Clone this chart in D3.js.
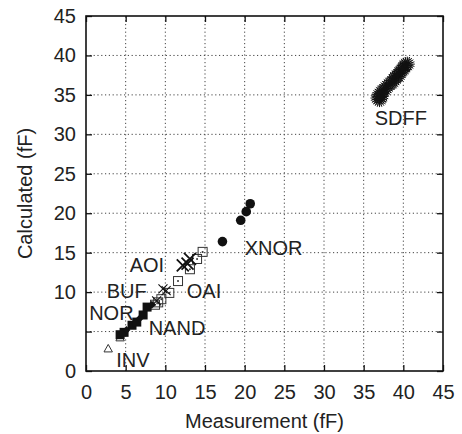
<!DOCTYPE html>
<html>
<head>
<meta charset="utf-8">
<script src="https://cdn.jsdelivr.net/npm/d3@7"></script>
<style>
  body { margin: 0; background: #fff; }
  svg { display: block; font-family: "Liberation Sans", Arial, sans-serif; }
  .tick text { font-size: 20px; fill: #222; }
  .grid line { stroke: #444; stroke-width: 1; stroke-dasharray: 1.2,2.6; }
  .lbl { font-size: 20px; fill: #222; }
</style>
</head>
<body>
<svg id="chart"></svg>
<script>
// cell families, [measured, calculated] in fF
const INV  = [[2.8, 2.8], [4.3, 4.2]];
const NOR  = [[4.3, 4.6], [4.8, 4.9], [5.8, 5.8], [6.4, 6.2], [7.2, 7.1], [7.7, 8.1]];
const NAND = [[5.1, 5.2], [6.8, 6.7], [8.3, 8.4]];
const BUF  = [[9.7, 10.4], [10.1, 10.2], [8.9, 8.9]];
const AOI  = [[12.2, 13.4], [13.1, 14.2], [12.8, 13.6]];
const OAI  = [[8.7, 8.4], [9.1, 8.7], [9.5, 9.1], [10.5, 9.9], [11.6, 11.4], [13.1, 12.9], [14.0, 14.2], [14.7, 15.1]];
const XNOR = [[17.2, 16.4], [19.5, 19.1], [20.2, 20.2], [20.7, 21.2]];
const SDFF = [[36.8, 34.6], [37.0, 34.4], [37.0, 35.0], [37.2, 34.8], [37.3, 35.4], [37.6, 35.6],
              [37.9, 36.0], [38.3, 36.4], [38.6, 36.6], [38.9, 37.0], [39.1, 37.3], [39.4, 37.5],
              [39.6, 37.9], [39.9, 38.2], [40.1, 38.5], [40.3, 38.8], [40.5, 38.9]];

// label text and anchor (left, baseline) in data units
const labelNames = ['SDFF', 'XNOR', 'AOI', 'BUF', 'OAI', 'NOR', 'NAND', 'INV'];
const labelX     = [36.4, 20.0, 5.5, 2.6, 12.7, 0.4, 7.9, 3.8];
const labelY     = [31.2, 14.7, 12.5, 9.25, 9.25, 6.5, 4.6, 0.5];

const xTicks = [0, 5, 10, 15, 20, 25, 30, 35, 40, 45];
const yTicks = [0, 5, 10, 15, 20, 25, 30, 35, 40, 45];
const yHidden = [5]; // no label printed at 5 in the original

const width = 462, height = 434;
const margin = { top: 16, right: 19, bottom: 63, left: 86 };

const svg = d3.select('#chart').attr('width', width).attr('height', height);

const x = d3.scaleLinear().domain([0, 45]).range([margin.left, width - margin.right]);
const y = d3.scaleLinear().domain([0, 45]).range([height - margin.bottom, margin.top]);

// dotted grid
const grid = svg.append('g').attr('class', 'grid');
grid.selectAll('.gx').data(xTicks.slice(1, -1)).join('line')
  .attr('x1', d => x(d)).attr('x2', d => x(d))
  .attr('y1', y(0)).attr('y2', y(45));
grid.selectAll('.gy').data(yTicks.slice(1, -1)).join('line')
  .attr('y1', d => y(d)).attr('y2', d => y(d))
  .attr('x1', x(0)).attr('x2', x(45));

// axes, ticks pointing inward
const tick = 6;
const axes = [
  [d3.axisBottom(x).tickValues(xTicks).tickSizeInner(-tick).tickSizeOuter(0).tickPadding(14), `translate(0,${y(0)})`],
  [d3.axisLeft(y).tickValues(yTicks).tickSizeInner(-tick).tickSizeOuter(0).tickPadding(10)
     .tickFormat(d => yHidden.includes(d) ? '' : d), `translate(${x(0)},0)`],
  [d3.axisTop(x).tickValues(xTicks).tickSizeInner(-tick).tickSizeOuter(0).tickFormat(''), `translate(0,${y(45)})`],
  [d3.axisRight(y).tickValues(yTicks).tickSizeInner(-tick).tickSizeOuter(0).tickFormat(''), `translate(${x(45)},0)`]
];
axes.forEach(([a, t]) => {
  const g = svg.append('g').attr('transform', t).call(a);
  g.select('.domain').remove();
  g.selectAll('.tick line').attr('stroke', '#111').attr('stroke-width', 1.3);
  g.selectAll('.tick text').attr('font-family', null).attr('font-size', null);
});

svg.append('rect')
  .attr('x', x(0)).attr('y', y(45))
  .attr('width', x(45) - x(0)).attr('height', y(0) - y(45))
  .attr('fill', 'none').attr('stroke', '#111').attr('stroke-width', 1.6);

// markers
const pts = svg.append('g');

pts.selectAll('.inv').data(INV).join('path')
  .attr('transform', d => `translate(${x(d[0])},${y(d[1])})`)
  .attr('d', 'M0,-4.5L4.2,3L-4.2,3Z')
  .attr('fill', '#fff').attr('stroke', '#333').attr('stroke-width', 1);

pts.selectAll('.oai').data(OAI).join('g')
  .attr('transform', d => `translate(${x(d[0])},${y(d[1])})`)
  .each(function () {
    const g = d3.select(this);
    g.append('rect').attr('x', -4.5).attr('y', -4.5).attr('width', 9).attr('height', 9)
      .attr('fill', 'none').attr('stroke', '#333').attr('stroke-width', 1);
    g.append('circle').attr('r', 1).attr('fill', '#333');
  });

pts.selectAll('.nor').data(NOR).join('rect')
  .attr('x', d => x(d[0]) - 4.5).attr('y', d => y(d[1]) - 4.5)
  .attr('width', 9).attr('height', 9).attr('fill', '#111');

pts.selectAll('.nand').data(NAND).join('path')
  .attr('transform', d => `translate(${x(d[0])},${y(d[1])})`)
  .attr('d', 'M0,-4L4,0L0,4L-4,0Z').attr('fill', '#111');

const cross = (sel, data, r, sw) => sel.selectAll(null).data(data).join('path')
  .attr('transform', d => `translate(${x(d[0])},${y(d[1])})`)
  .attr('d', `M${-r},${-r}L${r},${r}M${-r},${r}L${r},${-r}`)
  .attr('stroke', '#111').attr('stroke-width', sw).attr('fill', 'none');

cross(pts, BUF, 4.5, 1.1);
cross(pts, AOI, 6, 1.8);

pts.selectAll('.xnor').data(XNOR).join('circle')
  .attr('cx', d => x(d[0])).attr('cy', d => y(d[1]))
  .attr('r', 4.8).attr('fill', '#111');

// asterisks with many spokes
const spokes = d3.range(10).map(i => i * Math.PI / 10);
const star = spokes.map(a => {
  const r = 7.5, c = Math.cos(a) * r, s = Math.sin(a) * r;
  return `M${-c},${-s}L${c},${s}`;
}).join('');
pts.selectAll('.sdff').data(SDFF).join('path')
  .attr('transform', d => `translate(${x(d[0])},${y(d[1])})`)
  .attr('d', star).attr('stroke', '#111').attr('stroke-width', 1).attr('fill', 'none');

// family labels
svg.selectAll('.lbl').data(labelNames).join('text')
  .attr('class', 'lbl')
  .attr('x', (d, i) => x(labelX[i]))
  .attr('y', (d, i) => y(labelY[i]))
  .text(d => d);

// axis titles
svg.append('text')
  .attr('x', (x(0) + x(45)) / 2).attr('y', 428)
  .attr('text-anchor', 'middle').attr('font-size', 20).attr('fill', '#222')
  .text('Measurement (fF)');

svg.append('text')
  .attr('transform', `translate(32,${(y(0) + y(45)) / 2}) rotate(-90)`)
  .attr('text-anchor', 'middle').attr('font-size', 20).attr('fill', '#222')
  .text('Calculated (fF)');
</script>
</body>
</html>
